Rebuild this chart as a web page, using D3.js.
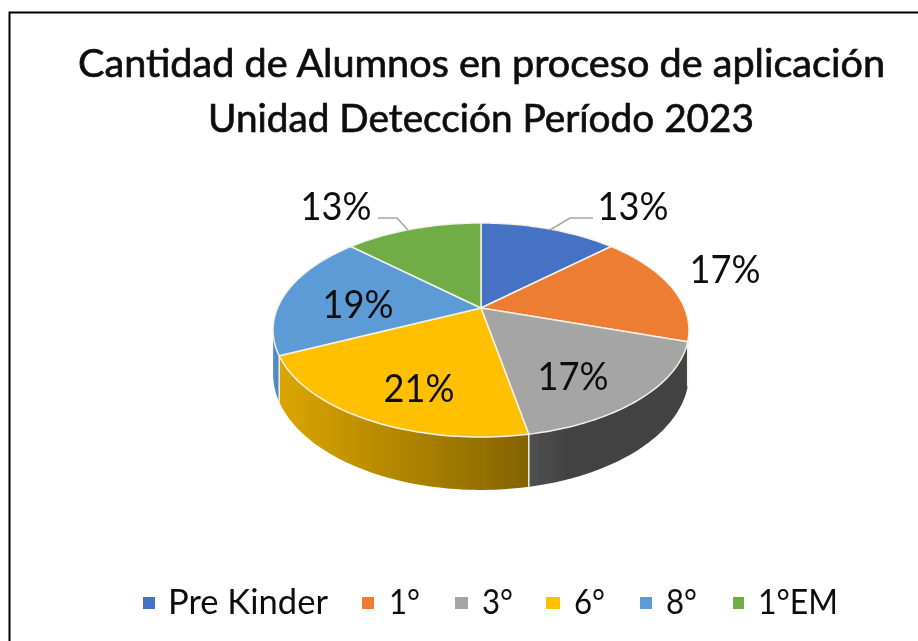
<!DOCTYPE html>
<html>
<head>
<meta charset="utf-8">
<script src="https://cdn.jsdelivr.net/npm/d3@7"></script>
<style>
html,body{margin:0;padding:0;background:#fff;overflow:hidden}
text{font-family:Lato,"Liberation Sans",sans-serif;fill:#111}
</style>
</head>
<body>
<svg id="chart" width="918" height="641"></svg>
<script>
const titleLines = ["Cantidad de Alumnos en proceso de aplicación", "Unidad Detección Período 2023"];
const categories = ["Pre Kinder", "1°", "3°", "6°", "8°", "1°EM"];
const values = [13, 17, 17, 21, 19, 13];
const labels = ["13%", "17%", "17%", "21%", "19%", "13%"];
const colors = ["#4472c4", "#ed7d31", "#a5a5a5", "#ffc000", "#5b9bd5", "#70ad47"];
const sideLeft = ["#3a62a8", "#c96a2a", "#505050", "#dba600", "#5590c8", "#5f9440"];
const sideRight = ["#2a4a80", "#a05522", "#424242", "#846300", "#4a86c0", "#4a7833"];

// layout
const apex = {x: 481, y: 308};
const K = 203.5, M = 102.5, P = 0.2057, D = 42;
const labelCenters = [[633, 220], [725, 283], [573, 390], [419, 402], [358, 318], [336, 220]];
const legendMarks = [[143, 12], [362, 12], [455, 13], [546, 14], [640, 12], [733, 11]];
const legendText = [[168, 160], [389, 31], [482, 31], [574, 31], [666, 31], [758, 80]];

const svg = d3.select("#chart");
const defs = svg.append("defs");
defs.append("filter").attr("id", "soft").attr("x", "-5%").attr("y", "-5%").attr("width", "110%").attr("height", "110%")
  .append("feGaussianBlur").attr("stdDeviation", 0.6);
const root = svg.append("g").attr("filter", "url(#soft)");

// frame (left and top edges only, the right/bottom are cropped in the picture)
root.append("path").attr("d", "M9.5,641V12.5H918").attr("fill", "none").attr("stroke", "#000").attr("stroke-width", 2);

// perspective mapping of the pie plane
const project = (a, level = 0) => {
  const u = Math.sin(a), v = -Math.cos(a), den = 1 - P * v;
  return [apex.x + K * u / den, apex.y + M * v / den + level * D / den];
};
const arcs = d3.pie().sort(null).value(d => d)(values);
const line = d3.line();
const sample = (a0, a1, level) => d3.range(0, 61).map(i => project(a0 + (a1 - a0) * i / 60, level));

// side wall: only the front part of the rim is visible; the slice that starts
// on the far side of the right-hand silhouette shows no wall
const visEnd = Math.PI + Math.acos(P);
const sideG = root.append("g");
arcs.forEach((d, i) => {
  if (d.startAngle < Math.PI / 2 || d.startAngle >= visEnd) return;
  const a0 = d.startAngle, a1 = Math.min(d.endAngle, visEnd);
  const top = sample(a0, a1, 0), bot = sample(a0, a1, 1).reverse();
  const xs = top.map(p => p[0]);
  const id = "side" + i;
  const grad = defs.append("linearGradient").attr("id", id).attr("gradientUnits", "userSpaceOnUse")
    .attr("x1", d3.min(xs)).attr("x2", d3.max(xs)).attr("y1", 0).attr("y2", 0);
  grad.append("stop").attr("offset", 0).attr("stop-color", sideLeft[i]);
  grad.append("stop").attr("offset", i === 2 ? 0.25 : 1).attr("stop-color", sideRight[i]);
  sideG.append("path").attr("d", line(top.concat(bot)) + "Z").attr("fill", `url(#${id})`);
  sideG.append("path").attr("d", line([project(d.startAngle, 0), project(d.startAngle, 1)]))
    .attr("stroke", "#f2efe4").attr("stroke-width", 1.5).attr("fill", "none");
});

// top faces
root.append("g").selectAll("path").data(arcs).join("path")
  .attr("d", d => line([[apex.x, apex.y]].concat(sample(d.startAngle, d.endAngle, 0))) + "Z")
  .attr("fill", (d, i) => colors[i])
  .attr("stroke", "#f4f1e6").attr("stroke-width", 1.5).attr("stroke-linejoin", "round");

// leader lines
const leaders = [[[593, 218], [570, 218], [550, 230]], [[378, 218], [397, 218], [408, 230]]];
root.append("g").selectAll("path").data(leaders).join("path")
  .attr("d", line).attr("fill", "none").attr("stroke", "#a6a6a6").attr("stroke-width", 1.5);

// data labels
root.append("g").selectAll("text").data(labels).join("text")
  .attr("x", (d, i) => labelCenters[i][0]).attr("y", (d, i) => labelCenters[i][1])
  .attr("text-anchor", "middle").attr("font-size", 39)
  .attr("textLength", 71).attr("lengthAdjust", "spacingAndGlyphs")
  .text(d => d);

// title
const titleSpan = [[78, 807], [208, 546]];
root.append("g").selectAll("text").data(titleLines).join("text")
  .attr("x", (d, i) => titleSpan[i][0]).attr("y", (d, i) => 77 + i * 55)
  .attr("font-size", 39).attr("font-weight", 400)
  .attr("stroke", "#111").attr("stroke-width", 0.7)
  .attr("textLength", (d, i) => titleSpan[i][1]).attr("lengthAdjust", "spacingAndGlyphs")
  .text(d => d);

// legend
const legend = root.append("g");
legend.selectAll("rect").data(categories).join("rect")
  .attr("x", (d, i) => legendMarks[i][0]).attr("y", 597)
  .attr("width", (d, i) => legendMarks[i][1]).attr("height", 12)
  .attr("fill", (d, i) => colors[i]);
legend.selectAll("text").data(categories).join("text")
  .attr("x", (d, i) => legendText[i][0]).attr("y", 614)
  .attr("font-size", 35)
  .attr("textLength", (d, i) => legendText[i][1]).attr("lengthAdjust", "spacingAndGlyphs")
  .text(d => d);
</script>
</body>
</html>
